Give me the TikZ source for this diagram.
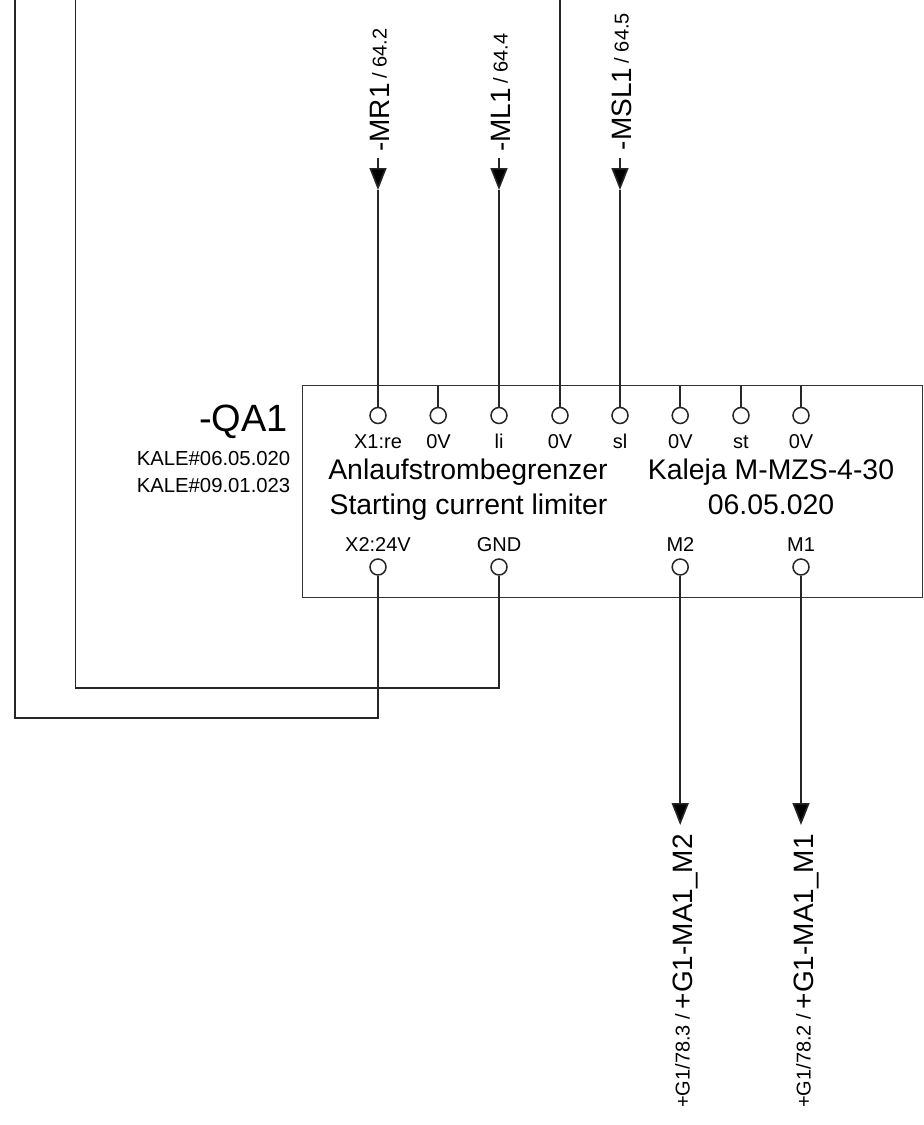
\documentclass[tikz,border=0pt]{standalone}
\usepackage{fontspec}
\setmainfont{Liberation Sans}
\usetikzlibrary{arrows.meta}
\newcommand{\vsmalltext}[1]{\raisebox{2.5pt}{\fontsize{20}{22}\selectfont #1}}
\tikzset{
  x=1pt,y=-1pt,
  wire/.style={draw=black!85,line width=1.6pt},
  tipwire/.style={wire,-{Triangle[length=22pt,width=17pt,fill=black]}},
  term/.style={circle,draw=black!85,line width=1.5pt,fill=white,minimum size=16pt,inner sep=0pt},
  devbox/.style={draw=black!80,line width=1pt,fill=white,minimum width=620pt,minimum height=212pt,inner sep=0pt},
  pin/.style={font=\fontsize{20}{22}\selectfont,inner sep=0pt,anchor=base},
  big/.style={font=\fontsize{28.4}{30}\selectfont,inner sep=0pt,anchor=base},
  tag/.style={font=\fontsize{20.3}{22}\selectfont,inner sep=0pt,anchor=base east},
  vtag/.style={rotate=90,anchor=base west,inner sep=0pt,font=\fontsize{28}{30}\selectfont}
}
\begin{document}
\begin{tikzpicture}
\useasboundingbox (0,0) rectangle (924,1125);
\node[devbox] (box) at (612.5,491.5) {};
% top terminals
\foreach \n/\x in {a/378,b/438.2,c/499,d/560,e/620,f/680.2,g/741,h/801}{
  \node[term] (t\n) at (\x,415.5) {};
  \coordinate (b\n) at (\x,385.5);
}
\foreach \n/\x in {a/378,c/499,f/680.2,h/801}{
  \node[term] (u\n) at (\x,567) {};
}
% free ends
\coordinate (ra) at (378,158); \coordinate (ma) at (378,190);
\coordinate (rc) at (499,158); \coordinate (mc) at (499,190);
\coordinate (re) at (620,158); \coordinate (me) at (620,190);
\coordinate (td0) at (560,0);
\coordinate (ef) at (680.2,825); \coordinate (eh) at (801,825);
\coordinate (l1) at (15,0); \coordinate (l2) at (15,718); \coordinate (l3) at (378,718);
\coordinate (k1) at (75.5,0); \coordinate (k2) at (75.5,688); \coordinate (k3) at (499,688);
% wires
\foreach \n in {a,c,e}{
  \draw[tipwire] (r\n) -- (m\n);
  \draw[wire] (m\n) -- (t\n);
}
\draw[wire] (td0) -- (td);
\foreach \n in {b,f,g,h}{
  \draw[wire] (b\n) -- (t\n);
}
\draw[tipwire] (uf) -- (ef);
\draw[tipwire] (uh) -- (eh);
\draw[wire,line join=miter] (l1) -- (l2) -- (l3) -- (ua);
\draw[wire,line join=miter] (k1) -- (k2) -- (k3) -- (uc);
% pin labels
\node[pin] (p1) at (378,448) {X1:re};
\node[pin] (p2) at (438.5,448) {0V};
\node[pin] (p3) at (499,448) {li};
\node[pin] (p4) at (560,448) {0V};
\node[pin] (p5) at (620,448) {sl};
\node[pin] (p6) at (680.4,448) {0V};
\node[pin] (p7) at (741,448) {st};
\node[pin] (p8) at (801,448) {0V};
\node[pin] (q1) at (378,551.5) {X2:24V};
\node[pin] (q2) at (499,551.5) {GND};
\node[pin] (q3) at (680.4,551.5) {M2};
\node[pin] (q4) at (801,551.5) {M1};
% box texts
\node[big] (t1) at (468,479) {Anlaufstrombegrenzer};
\node[big] (t2) at (468.5,514.5) {Starting current limiter};
\node[big] (t3) at (771,479) {Kaleja M-MZS-4-30};
\node[big] (t4) at (771,514.5) {06.05.020};
% designation
\node[inner sep=0pt,anchor=base east,font=\fontsize{38}{40}\selectfont] (qa) at (288,431.7) {-QA1};
\node[tag] (k5) at (290.5,465) {KALE\#06.05.020};
\node[tag] (k6) at (290.5,492) {KALE\#09.01.023};
% vertical labels
\node[vtag] (v1) at (389,152) {-MR1\,\vsmalltext{/ 64.2}};
\node[vtag] (v2) at (510,152) {-ML1\,\vsmalltext{/ 64.4}};
\node[vtag] (v3) at (631,150.5) {-MSL1\,\vsmalltext{/ 64.5}};
\node[vtag] (v4) at (692,1108) {\vsmalltext{+G1/78.3 /}\,+G1-MA1\_M2};
\node[vtag] (v5) at (813,1108) {\vsmalltext{+G1/78.2 /}\,+G1-MA1\_M1};
\end{tikzpicture}
\end{document}
